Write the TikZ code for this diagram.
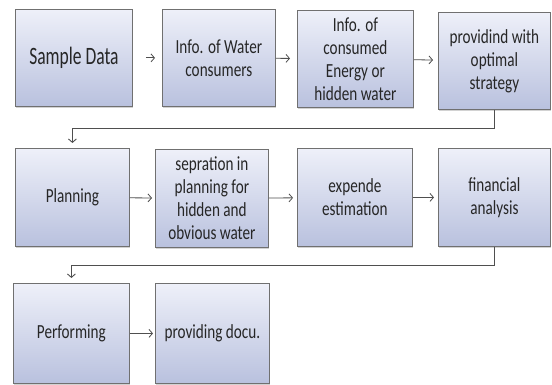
\documentclass[tikz,border=0pt]{standalone}
\usepackage{fontspec}
\setmainfont{Carlito}
\newfontfamily\boxfont[FakeStretch=0.76]{Carlito}
\newfontfamily\bigboxfont[FakeStretch=0.7]{Carlito}
\usepackage{tikz}
\usetikzlibrary{arrows.meta,shadows,positioning}
\definecolor{boxtop}{HTML}{EEF0F9}
\definecolor{boxbot}{HTML}{B9C1DE}
\definecolor{boxline}{HTML}{707070}
\definecolor{flowline}{HTML}{4F4F4F}
\tikzset{
    >={Straight Barb[length=3.5pt,width=8pt]},
    stage/.style={draw=boxline, line width=0.8pt, top color=boxtop, bottom color=boxbot,
        drop shadow={shadow xshift=0.8pt, shadow yshift=-1.5pt, opacity=0.35},
        anchor=north west, align=center, inner sep=2pt, text=black!85,
        font=\boxfont\fontsize{20}{23}\selectfont},
    toprow/.style={stage, minimum height=97pt},
    midrow/.style={stage, minimum height=98pt},
    lowrow/.style={stage, minimum height=100pt},
    flow/.style={draw=flowline, line width=0.8pt, ->, shorten >=4pt},
    loopback/.style={draw=flowline, line width=0.9pt, ->, shorten >=5pt},
}

\begin{document}
\begin{tikzpicture}[x=1pt, y=-1pt]
\useasboundingbox[fill=white] (0,0) rectangle (552,385);
% first row
\node[toprow, minimum width=117pt, font=\bigboxfont\fontsize{25}{28}\selectfont] (sample) at (15,9) {Sample Data};
\node[toprow, minimum width=113pt] (consumers) at (162,9) {Info. of Water\\consumers};
\node[toprow, minimum width=116pt] (energy) at (297,10) {Info. of\\consumed\\Energy or\\hidden water};
\node[toprow, minimum width=112pt] (strategy) at (438,12) {providind with\\optimal\\strategy};
% second row
\node[midrow, minimum width=114pt] (planning) at (15,148) {Planning};
\node[midrow, minimum width=113pt] (sepration) at (155,149) {sepration in\\planning for\\hidden and\\obvious water};
\node[midrow, minimum width=115pt] (expende) at (297,148) {expende\\estimation};
\node[midrow, minimum width=112pt] (financial) at (438,148) {financial\\analysis};
% third row
\node[lowrow, minimum width=116pt] (performing) at (13,283) {Performing};
\node[lowrow, minimum width=114pt] (docu) at (155,283) {providing docu.};

\draw[flow, shorten <=13pt, shorten >=7pt] (sample) -- (consumers);
\draw[flow, shorten >=7pt] (consumers) -- (energy);
\draw[flow, shorten >=5pt] (energy) -- (strategy);
\draw[loopback] (strategy.south) -- ++(0,19) -| (planning.north);

\draw[flow, shorten >=3pt] (planning) -- (sepration);
\draw[flow] (sepration) -- (expende);
\draw[flow] (expende) -- (financial);
\draw[loopback] (financial.south) -- ++(0,19) -| (performing.north);

\draw[flow, shorten >=2pt] (performing) -- (docu);
\end{tikzpicture}
\end{document}
